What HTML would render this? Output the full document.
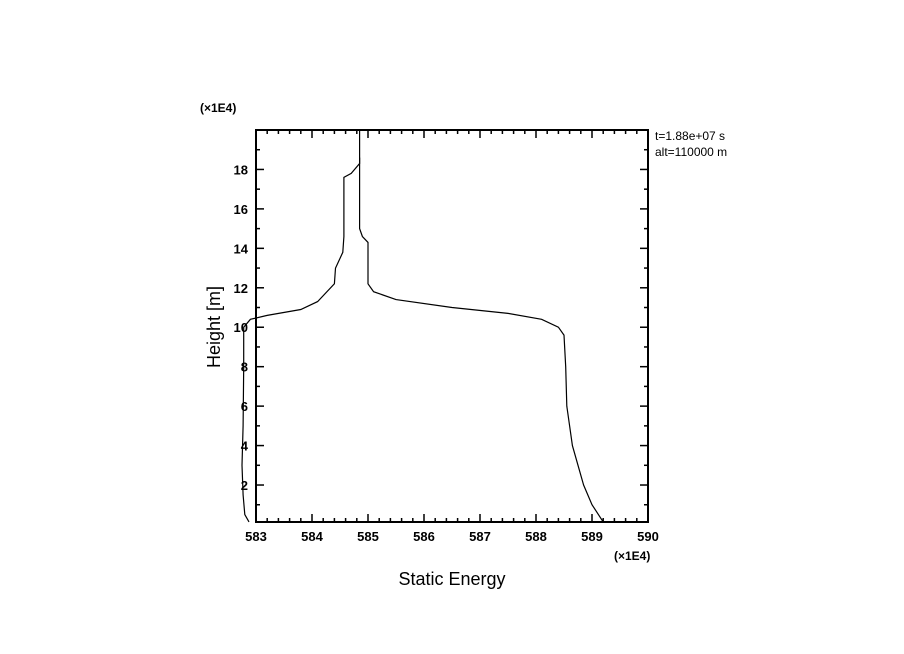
<!DOCTYPE html>
<html><head><meta charset="utf-8"><style>
html,body{margin:0;padding:0;background:#fff;}
svg{display:block;font-family:"Liberation Sans","DejaVu Sans",sans-serif;}
</style></head><body>
<svg id="chart" width="904" height="654" viewBox="0 0 904 654">
<rect x="0" y="0" width="904" height="654" fill="#fff"/>
<g id="ticks"></g>
<g id="lines"></g>
<rect x="256" y="130" width="392" height="392" fill="none" stroke="#000" stroke-width="2"/>
<text x="200" y="112" font-size="12" font-weight="bold">(×1E4)</text>
<text x="614" y="560" font-size="12" font-weight="bold">(×1E4)</text>
<text x="452" y="585" font-size="18" text-anchor="middle">Static Energy</text>
<text x="220" y="327" font-size="18" text-anchor="middle" transform="rotate(-90 220 327)">Height [m]</text>
<text x="655" y="140" font-size="12">t=1.88e+07 s</text>
<text x="655" y="156" font-size="12">alt=110000 m</text>
</svg>
<script>
const xTicks = [583,584,585,586,587,588,589,590];
const yTicks = [2,4,6,8,10,12,14,16,18];
const seriesAx = [589.2,589.0,588.85,588.75,588.65,588.6,588.55,588.53,588.5,588.4,588.1,587.5,586.5,585.5,585.1,585.0,585.0,584.9,584.85,584.85];
const seriesAy = [0.13,1.0,2,3,4,5,6,8,9.6,10.0,10.4,10.7,11.0,11.4,11.8,12.2,14.3,14.6,15,20];
const seriesBx = [582.875,582.8,582.77,582.75,582.77,582.78,582.78,582.9,583.2,583.8,584.1,584.4,584.42,584.55,584.57,584.57,584.7,584.85,584.85];
const seriesBy = [0.13,0.5,1.5,3,5,8,10,10.4,10.6,10.9,11.3,12.2,13,13.8,14.6,17.6,17.8,18.3,18.6];
const xMin=583,xMax=590,yMin=0.125,yMax=20;
const L=256,R=648,T=130,B=522;
function sx(v){return L+(v-xMin)/(xMax-xMin)*(R-L);}
function sy(v){return B-(v-yMin)/(yMax-yMin)*(B-T);}
const NS="http://www.w3.org/2000/svg";
const tg=document.getElementById('ticks'), lg=document.getElementById('lines');
function ln(x1,y1,x2,y2,w){const l=document.createElementNS(NS,'line');l.setAttribute('x1',x1);l.setAttribute('y1',y1);l.setAttribute('x2',x2);l.setAttribute('y2',y2);l.setAttribute('stroke','#000');l.setAttribute('stroke-width',w);


tg.appendChild(l);}
function tx(x,y,s,anchor){const t=document.createElementNS(NS,'text');t.setAttribute('x',x);t.setAttribute('y',y);t.setAttribute('font-size','13');t.setAttribute('font-weight','bold');t.setAttribute('text-anchor',anchor);t.textContent=s;


tg.appendChild(t);}
for(let v=xMin;v<=xMax+1e-9;v+=0.2){const x=sx(v);const major=Math.abs(v-Math.round(v))<1e-6;const len=major?8:4;ln(x,B,x,B-len,1.5);ln(x,T,x,T+len,1.5);}
xTicks.forEach(v=>tx(sx(v),B+19,String(v),'middle'));
for(let v=1;v<=19;v++){const y=sy(v);const major=v%2===0;const len=major?8:4;ln(L,y,L+len,y,1.5);ln(R,y,R-len,y,1.5);}
yTicks.forEach(v=>tx(L-8,sy(v)+5,String(v),'end'));
function path(xs,ys,name){const p=document.createElementNS(NS,'path');let d='';xs.forEach((v,i)=>{d+=(i?'L':'M')+sx(v).toFixed(1)+','+sy(ys[i]).toFixed(1);});p.setAttribute('d',d);p.setAttribute('fill','none');p.setAttribute('stroke','#000');p.setAttribute('stroke-width','1.2');


lg.appendChild(p);}
path(seriesAx,seriesAy,'series-a-line');
path(seriesBx,seriesBy,'series-b-line');
</script>
</body></html>
